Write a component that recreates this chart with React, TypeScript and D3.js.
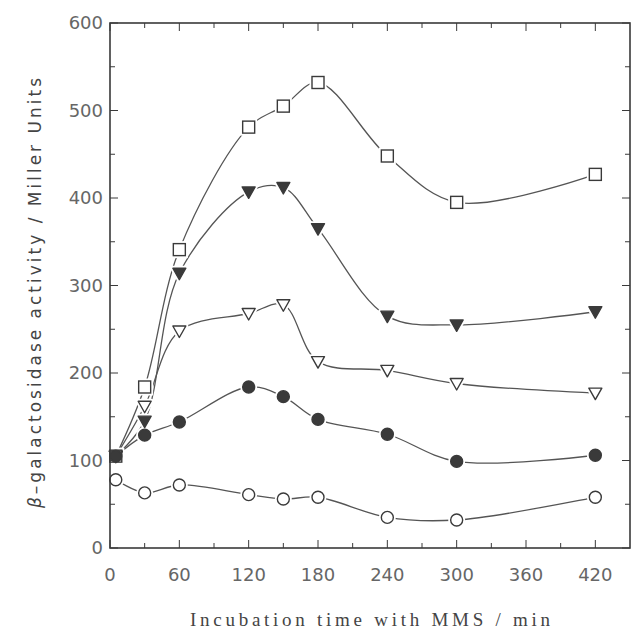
import React from "react";
import * as d3 from "d3";

const times = [5, 30, 60, 120, 150, 180, 240, 300, 420];
const openCircle = [78, 63, 72, 61, 56, 58, 35, 32, 58];
const filledCircle = [105, 129, 144, 184, 173, 147, 130, 99, 106];
const openTriangle = [105, 162, 248, 268, 278, 213, 203, 188, 177];
const filledTriangle = [105, 145, 314, 407, 412, 365, 265, 255, 270];
const openSquare = [105, 184, 341, 481, 505, 532, 448, 395, 427];

const xTicks = [0, 60, 120, 180, 240, 300, 360, 420];
const xMinor = [30, 90, 150, 210, 270, 330, 390];
const yTicks = [0, 100, 200, 300, 400, 500, 600];
const yMinor = [50, 150, 250, 350, 450, 550];

type Series = { name: string; values: number[]; shape: "circle" | "square" | "tri"; filled: boolean };
const series: Series[] = [
  { name: "square", values: openSquare, shape: "square", filled: false },
  { name: "ftri", values: filledTriangle, shape: "tri", filled: true },
  { name: "otri", values: openTriangle, shape: "tri", filled: false },
  { name: "fcirc", values: filledCircle, shape: "circle", filled: true },
  { name: "ocirc", values: openCircle, shape: "circle", filled: false },
];

const W = 633, H = 629;
const L = 110, R = 630, T = 23, B = 548;
const ink = "#3a3a3a";
const lineCol = "#555";
const textCol = "#666";

function Marker({ shape, filled, x, y, halo }: { shape: string; filled: boolean; x: number; y: number; halo?: boolean }) {
  const fill = halo ? "#fff" : filled ? ink : "#fff";
  const stroke = halo ? "#fff" : ink;
  const sw = halo ? 5 : 1.4;
  if (shape === "circle") return <circle cx={x} cy={y} r={6} fill={fill} stroke={stroke} strokeWidth={sw} />;
  if (shape === "square") return <rect x={x - 6} y={y - 6} width={12} height={12} fill={fill} stroke={stroke} strokeWidth={sw} />;
  return <path d={`M${x - 6.5},${y - 5}L${x + 6.5},${y - 5}L${x},${y + 6.5}Z`} fill={fill} stroke={stroke} strokeWidth={sw} strokeLinejoin="round" />;
}

export default function App() {
  const x = d3.scaleLinear().domain([0, 450]).range([L, R]);
  const y = d3.scaleLinear().domain([0, 600]).range([B, T]);
  const line = d3
    .line<[number, number]>()
    .x((d) => x(d[0]))
    .y((d) => y(d[1]))
    .curve(d3.curveCatmullRom.alpha(0.5));

  return (
    <svg width={W} height={H} style={{ position: "absolute", left: 0, top: 0, background: "#fff" }}>
      <rect x={0} y={0} width={W} height={H} fill="#fff" />
      {/* lines */}
      {series.map((s) => (
        <path key={s.name} d={line(times.map((t, i) => [t, s.values[i]] as [number, number])) || ""} fill="none" stroke={lineCol} strokeWidth={1.3} />
      ))}
      {/* halos */}
      {series.map((s) =>
        times.map((t, i) => <Marker key={s.name + "h" + i} shape={s.shape} filled={s.filled} x={x(t)} y={y(s.values[i])} halo />)
      )}
      {series.map((s) =>
        times.map((t, i) => <Marker key={s.name + "m" + i} shape={s.shape} filled={s.filled} x={x(t)} y={y(s.values[i])} />)
      )}
      {/* frame */}
      <rect x={L} y={T} width={R - L} height={B - T} fill="none" stroke={ink} strokeWidth={1.6} />
      {/* x ticks */}
      {xTicks.map((t) => (
        <g key={"xt" + t}>
          <line x1={x(t)} x2={x(t)} y1={B} y2={B - 8} stroke={ink} strokeWidth={1} />
          <line x1={x(t)} x2={x(t)} y1={T} y2={T + 8} stroke={ink} strokeWidth={1} />
          <text x={x(t)} y={581} textAnchor="middle" fontFamily="DejaVu Sans" fontSize={18} fill={textCol}>
            {t}
          </text>
        </g>
      ))}
      {xMinor.map((t) => (
        <g key={"xm" + t}>
          <line x1={x(t)} x2={x(t)} y1={B} y2={B - 5} stroke={ink} strokeWidth={1} />
          <line x1={x(t)} x2={x(t)} y1={T} y2={T + 5} stroke={ink} strokeWidth={1} />
        </g>
      ))}
      {/* y ticks */}
      {yTicks.map((t) => (
        <g key={"yt" + t}>
          <line x1={L} x2={L + 8} y1={y(t)} y2={y(t)} stroke={ink} strokeWidth={1} />
          <line x1={R} x2={R - 8} y1={y(t)} y2={y(t)} stroke={ink} strokeWidth={1} />
          <text x={103} y={y(t)} dy="0.35em" textAnchor="end" fontFamily="DejaVu Sans" fontSize={18} fill={textCol}>
            {t}
          </text>
        </g>
      ))}
      {yMinor.map((t) => (
        <g key={"ym" + t}>
          <line x1={L} x2={L + 5} y1={y(t)} y2={y(t)} stroke={ink} strokeWidth={1} />
          <line x1={R} x2={R - 5} y1={y(t)} y2={y(t)} stroke={ink} strokeWidth={1} />
        </g>
      ))}
      {/* axis titles */}
      <text x={370} y={626} textAnchor="middle" fontFamily="Liberation Serif" fontSize={19} fill="#444" textLength={360} lengthAdjust="spacing">
        Incubation time with MMS / min
      </text>
      <text
        transform={`translate(41,293) rotate(-90)`}
        textAnchor="middle"
        fontFamily="DejaVu Sans"
        fontSize={17}
        fill="#444"
        textLength={430}
        lengthAdjust="spacing"
      >
        <tspan fontStyle="italic">β</tspan>–galactosidase activity / Miller Units
      </text>
    </svg>
  );
}
